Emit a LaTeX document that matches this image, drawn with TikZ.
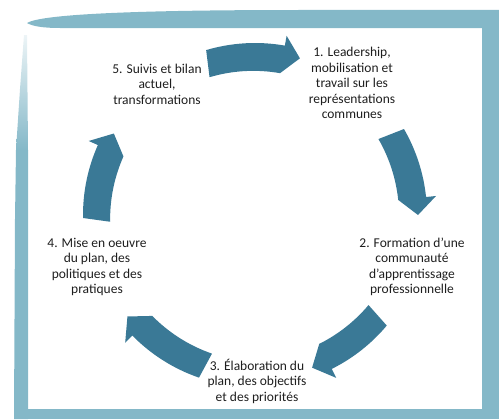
\documentclass[tikz,border=0pt]{standalone}
\usepackage{fontspec}
\setmainfont{Carlito}
\definecolor{frameblue}{RGB}{132,184,200}
\definecolor{arrowblue}{RGB}{58,121,150}
\definecolor{txt}{RGB}{30,30,30}
\newcommand\cycarrow[2]{%
  \pgfmathsetmacro\hb{#2+6}%
  \fill[arrowblue] (#1:172bp) arc[start angle=#1, end angle=\hb, radius=172bp]
    -- (\hb:182bp) -- (#2:163bp) -- (\hb:144bp)
    arc[start angle=\hb, end angle=#1, radius=154bp] -- cycle;}
\begin{document}
\begin{tikzpicture}[x=1bp,y=1bp,
  lbl/.style={align=center,inner sep=0pt,text=txt,
    font=\fontsize{13.5bp}{15.5bp}\selectfont}]
\useasboundingbox (0,0) rectangle (499,419);
% frame
\fill[frameblue] (27,396) .. controls (40,404) and (120,409) .. (300,409)
  -- (499,409) -- (499,391) -- (60,391) .. controls (42,391) and (32,393) .. cycle;
\fill[frameblue] (482,0) rectangle (499,409);
\fill[frameblue] (14,0) rectangle (499,10);
\fill[frameblue] (14,0) -- (28,0) -- (28,269) -- (16,269) -- (15,200) -- cycle;
\shade[top color=frameblue!15, bottom color=frameblue]
  (16,269) -- (28,269) -- (27,384) -- (24,384) -- (20,330) -- cycle;
% arrows
\begin{scope}[shift={(255,204)}]
  \cycarrow{106.5}{74}
  \cycarrow{30}{0}
  \cycarrow{-40}{-69.5}
  \cycarrow{-109}{-141.5}
  \cycarrow{181}{150}
\end{scope}
% labels
\node[lbl] (n1) at (352,336) {1. Leadership,\\mobilisation et\\travail sur les\\représentations\\communes};
\node[lbl] (n2) at (412,152) {2. Formation d’une\\communauté\\d’apprentissage\\professionnelle};
\node[lbl] (n3) at (257,38) {3. Élaboration du\\plan, des objectifs\\et des priorités};
\node[lbl] (n4) at (97,152) {4. Mise en oeuvre\\du plan, des\\politiques et des\\pratiques};
\node[lbl] (n5) at (157,335) {5. Suivis et bilan\\actuel,\\transformations};
\end{tikzpicture}
\end{document}
